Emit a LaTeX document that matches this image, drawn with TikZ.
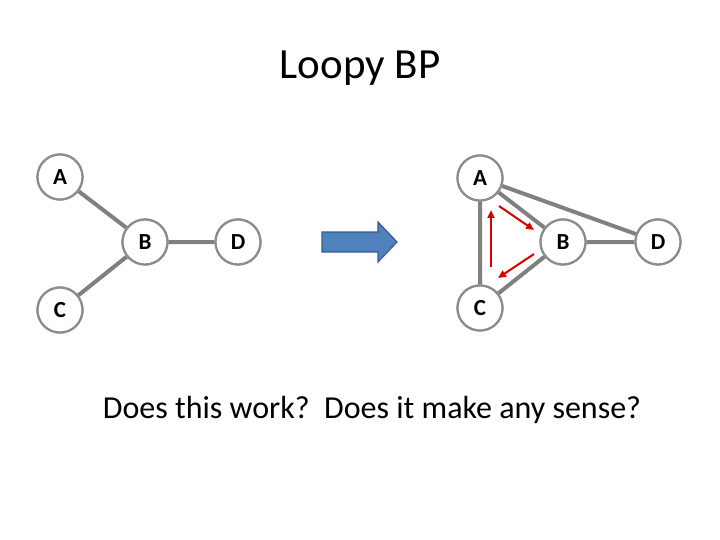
\documentclass[tikz,border=0pt]{standalone}
\usepackage{fontspec}
\setmainfont{Carlito}
\usetikzlibrary{arrows.meta}
\begin{document}
\begin{tikzpicture}[x=1pt,y=-1pt,
  nd/.style={circle,draw=gray!90,line width=2.2pt,fill=white,minimum size=45pt,inner sep=0pt,font=\fontsize{23}{26}\selectfont\bfseries},
  ed/.style={draw=gray,line width=4pt},
  msg/.style={draw=red!85!black,line width=2pt,-{Triangle[length=8pt,width=7pt]}}]
\useasboundingbox (0,0) rectangle (720,540);
\node[font=\fontsize{43}{48}\selectfont] (t) at (360,68) {Loopy BP};
% left graph
\path (60,177) node[nd] (lA) {} (145,242) node[nd] (lB) {} (60,310) node[nd] (lC) {} (238,242) node[nd] (lD) {};
\draw[ed] (lA)--(lB) (lB)--(lC) (lB)--(lD);
\path (60,177) node[nd] {A} (145,242) node[nd] {B} (60,310) node[nd] {C} (238,242) node[nd] {D};
% right graph
\path (480,178) node[nd] (rA) {} (563,242) node[nd] (rB) {} (480,308) node[nd] (rC) {} (658,242) node[nd] (rD) {};
\draw[ed] (rA)--(rB) (rB)--(rC) (rA)--(rC) (rA)--(rD) (rB)--(rD);
\path (480,178) node[nd] {A} (563,242) node[nd] {B} (480,308) node[nd] {C} (658,242) node[nd] {D};
\coordinate (m1s) at (499,206); \coordinate (m1e) at (534,230);
\coordinate (m2s) at (534,254); \coordinate (m2e) at (498,278);
\coordinate (m3s) at (491,267); \coordinate (m3e) at (491,210);
\draw[msg] (m1s)--(m1e);
\draw[msg] (m2s)--(m2e);
\draw[msg] (m3s)--(m3e);
% block arrow
\node (ar) at (360,242) {};
\draw[fill={rgb,255:red,79;green,129;blue,189},draw={rgb,255:red,56;green,93;blue,138},line width=1.2pt]
 (322,232)--(378,232)--(378,222)--(397,242)--(378,262)--(378,252)--(322,252)--cycle;
\node[font=\fontsize{32}{36}\selectfont] (q) at (372,410) {Does this work?\ \ Does it make any sense?};
\end{tikzpicture}
\end{document}
